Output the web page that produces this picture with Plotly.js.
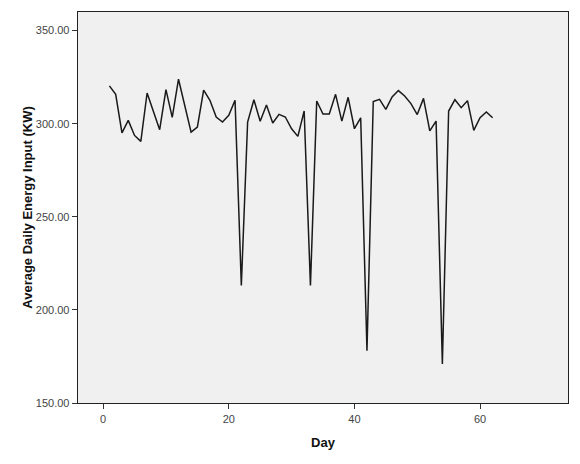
<!DOCTYPE html>
<html>
<head>
<meta charset="utf-8">
<script src="https://cdn.plot.ly/plotly-3.0.1.min.js"></script>
<style>
  html, body { margin: 0; padding: 0; background: #fff; }
  #chart { width: 580px; height: 464px; }
</style>
</head>
<body>
<div id="chart"></div>
<script>
// daily readings
const days = [];
for (let d = 1; d <= 62; d++) days.push(d);

const energyKW = [
  320.3, 315.8, 295.1, 301.8, 293.7, 290.5, 316.5, 306.6, 296.8, 318.3,
  303.4, 323.9, 309.7, 295.5, 298.2, 318.0, 312.6, 303.6, 300.9, 304.5,
  312.6, 213.1, 300.9, 312.9, 301.3, 310.0, 300.4, 305.0, 303.6, 297.3,
  293.2, 306.8, 213.1, 312.2, 305.2, 305.2, 315.8, 301.4, 314.2, 297.3,
  303.2, 178.1, 311.9, 313.1, 307.7, 314.4, 317.8, 314.9, 310.8, 304.9,
  313.6, 296.2, 301.4, 171.0, 306.8, 312.9, 308.6, 312.4, 296.4, 303.2,
  306.3, 303.2
];

const xTicks = [0, 20, 40, 60];
const yTicks = [150, 200, 250, 300, 350];

const font = 'Liberation Sans, Arial, sans-serif';

const trace = {
  x: days,
  y: energyKW,
  mode: 'lines',
  line: { color: '#1a1a1a', width: 1.5 },
  hoverinfo: 'skip'
};

const axisBase = {
  showgrid: false,
  zeroline: false,
  showline: true,
  mirror: true,
  linecolor: '#222',
  linewidth: 1.3,
  ticks: 'outside',
  ticklen: 5,
  tickcolor: '#333',
  tickfont: { family: font, size: 11, color: '#444' }
};

const layout = {
  width: 580,
  height: 464,
  margin: { l: 78, r: 12, t: 12, b: 61 },
  paper_bgcolor: '#ffffff',
  plot_bgcolor: '#f0f0f0',
  showlegend: false,
  xaxis: Object.assign({}, axisBase, {
    range: [-4, 74],
    tickvals: xTicks,
    title: { text: 'Day', font: { family: font, size: 13, color: '#111', weight: 'bold' }, standoff: 14 }
  }),
  yaxis: Object.assign({}, axisBase, {
    range: [150, 360],
    tickvals: yTicks,
    tickformat: '.2f',
    title: { text: 'Average Daily Energy Input (KW)', font: { family: font, size: 13, color: '#111', weight: 'bold' }, standoff: 0 }
  })
};

Plotly.newPlot('chart', [trace], layout, { staticPlot: true, displayModeBar: false });
</script>
</body>
</html>
